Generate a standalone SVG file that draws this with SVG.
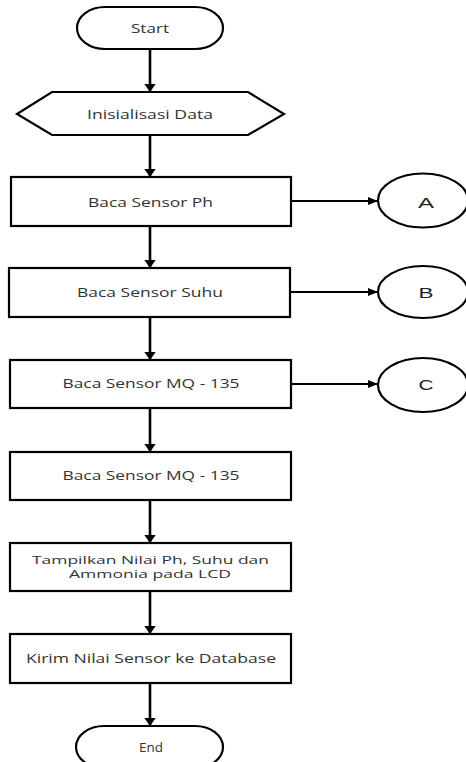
<svg xmlns="http://www.w3.org/2000/svg" width="466" height="762" viewBox="0 0 466 762">
  <style>
    .shape { fill: #ffffff; stroke: #000000; stroke-width: 2.2; }
    .label { font-family: "Open Sans", "DejaVu Sans", sans-serif; font-size: 13px; fill: #333333; text-anchor: middle; }
    .small { font-size: 11.5px; }
    .conn { font-family: "Liberation Sans", Arial, sans-serif; font-size: 15.5px; fill: #222222; text-anchor: middle; }
    .down { stroke: #000000; stroke-width: 2.6; fill: none; }
    .side { stroke: #000000; stroke-width: 1.8; fill: none; }
  </style>
  <defs>
    <marker id="headDown" markerUnits="userSpaceOnUse" markerWidth="12" markerHeight="8" refX="5" refY="7" orient="0" viewBox="0 0 10 7">
      <path d="M0,0 L10,0 L5,7 Z" fill="#000000"/>
    </marker>
    <marker id="headRight" markerUnits="userSpaceOnUse" markerWidth="10" markerHeight="8" refX="10" refY="4" orient="0" viewBox="0 0 10 8">
      <path d="M0,0 L10,4 L0,8 Z" fill="#000000"/>
    </marker>
  </defs>

  <!-- connectors -->
  <g id="connectors">
    <line class="down" x1="150" y1="49" x2="150" y2="92" marker-end="url(#headDown)"/>
    <line class="down" x1="150" y1="135" x2="150" y2="177" marker-end="url(#headDown)"/>
    <line class="down" x1="150" y1="226" x2="150" y2="268" marker-end="url(#headDown)"/>
    <line class="down" x1="150" y1="317" x2="150" y2="360" marker-end="url(#headDown)"/>
    <line class="down" x1="150" y1="408" x2="150" y2="452" marker-end="url(#headDown)"/>
    <line class="down" x1="150" y1="500" x2="150" y2="543" marker-end="url(#headDown)"/>
    <line class="down" x1="150" y1="591" x2="150" y2="634" marker-end="url(#headDown)"/>
    <line class="down" x1="150" y1="683" x2="150" y2="726" marker-end="url(#headDown)"/>
    <line class="side" x1="291" y1="201" x2="378" y2="201" marker-end="url(#headRight)"/>
    <line class="side" x1="291" y1="292" x2="378" y2="292" marker-end="url(#headRight)"/>
    <line class="side" x1="291" y1="384" x2="378" y2="384" marker-end="url(#headRight)"/>
  </g>

  <g id="start">
    <rect class="shape" x="77" y="7" width="146" height="42" rx="28" ry="21"/>
    <text class="label" x="150" y="33" textLength="38" lengthAdjust="spacingAndGlyphs">Start</text>
  </g>

  <g id="init">
    <polygon class="shape" points="17,114 52,92 248,92 284,114 248,135 52,135"/>
    <text class="label" x="150" y="119" textLength="126" lengthAdjust="spacingAndGlyphs">Inisialisasi Data</text>
  </g>

  <g id="read-ph">
    <rect class="shape" x="11" y="177" width="280" height="49"/>
    <text class="label" x="150.5" y="207" textLength="125" lengthAdjust="spacingAndGlyphs">Baca Sensor Ph</text>
  </g>

  <g id="conn-a">
    <ellipse class="shape" cx="423" cy="200.5" rx="45" ry="27"/>
    <text class="conn" x="426" y="208" textLength="16" lengthAdjust="spacingAndGlyphs">A</text>
  </g>

  <g id="read-suhu">
    <rect class="shape" x="9" y="268" width="281" height="49"/>
    <text class="label" x="150" y="297" textLength="146" lengthAdjust="spacingAndGlyphs">Baca Sensor Suhu</text>
  </g>

  <g id="conn-b">
    <ellipse class="shape" cx="423" cy="292" rx="45" ry="26"/>
    <text class="conn" x="426" y="298" textLength="15" lengthAdjust="spacingAndGlyphs">B</text>
  </g>

  <g id="read-mq-1">
    <rect class="shape" x="10" y="360" width="281" height="48"/>
    <text class="label" x="151" y="388" textLength="177" lengthAdjust="spacingAndGlyphs">Baca Sensor MQ - 135</text>
  </g>

  <g id="conn-c">
    <ellipse class="shape" cx="423" cy="385" rx="45" ry="27"/>
    <text class="conn" x="426" y="390" textLength="15" lengthAdjust="spacingAndGlyphs">C</text>
  </g>

  <g id="read-mq-2">
    <rect class="shape" x="10" y="452" width="281" height="48"/>
    <text class="label" x="151" y="480" textLength="177" lengthAdjust="spacingAndGlyphs">Baca Sensor MQ - 135</text>
  </g>

  <g id="display-lcd">
    <rect class="shape" x="10" y="543" width="281" height="48"/>
    <text class="label small" x="150.5" y="564" textLength="237" lengthAdjust="spacingAndGlyphs">Tampilkan Nilai Ph, Suhu dan</text>
    <text class="label small" x="150" y="578" textLength="162" lengthAdjust="spacingAndGlyphs">Ammonia pada LCD</text>
  </g>

  <g id="send-db">
    <rect class="shape" x="10" y="634" width="281" height="49"/>
    <text class="label" x="151" y="663" textLength="250" lengthAdjust="spacingAndGlyphs">Kirim Nilai Sensor ke Database</text>
  </g>

  <g id="end">
    <rect class="shape" x="76" y="726" width="147" height="42" rx="28" ry="21"/>
    <text class="label" x="151" y="752" textLength="24" lengthAdjust="spacingAndGlyphs">End</text>
  </g>
</svg>
